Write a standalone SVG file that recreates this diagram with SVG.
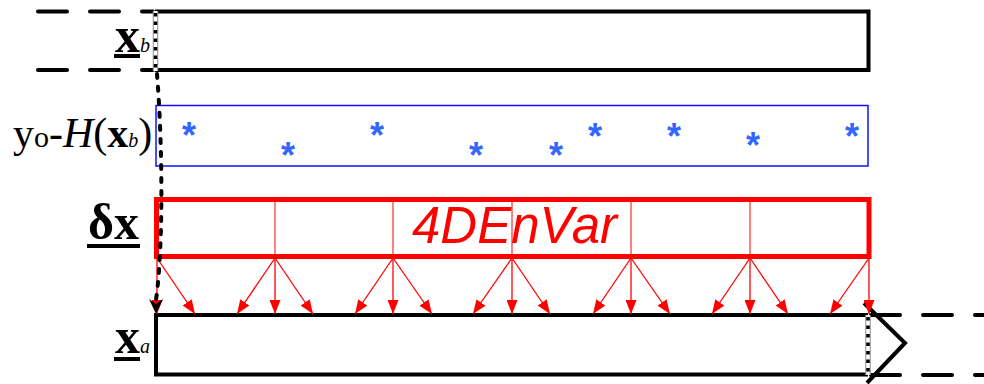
<svg xmlns="http://www.w3.org/2000/svg" width="984" height="384" viewBox="0 0 984 384">
  <style>
    .frame { fill: none; stroke: #000; stroke-width: 4; }
    .ext { fill: none; stroke: #000; stroke-width: 4; stroke-dasharray: 29 23; stroke-linecap: round; }
    .edge-out { stroke: #8a8a8a; stroke-width: 5.5; }
    .edge-in { stroke: #fff; stroke-width: 3.5; }
    .edge-dot { stroke: #000; stroke-width: 3.5; stroke-dasharray: 3.5 5; }
    .serif { font-family: "Liberation Serif", "Times New Roman", serif; fill: #000; }
    .star { font-family: "Liberation Sans", Arial, sans-serif; font-weight: bold; font-size: 36px; fill: #3366ff; text-anchor: middle; }
    .inc { stroke: #ff0000; stroke-width: 1.3; fill: none; marker-end: url(#redHead); }
    .tick { stroke: #ff0000; stroke-width: 1; }
  </style>
  <defs>
    <marker id="redHead" markerUnits="userSpaceOnUse" markerWidth="15" markerHeight="11" refX="14" refY="5.5" orient="auto">
      <path d="M0,0 L14,5.5 L0,11 Z" fill="#ff0000"/>
    </marker>
  </defs>

  <!-- background state window -->
  <g id="node-xb">
    <line class="ext" x1="38" y1="11.5" x2="153" y2="11.5"/>
    <line class="ext" x1="38" y1="70" x2="153" y2="70"/>
    <path class="frame" d="M155,11.5 H868.5 V70 H155"/>
    <line class="edge-out" x1="155.5" y1="11" x2="155.5" y2="71"/>
    <line class="edge-in" x1="155.5" y1="11" x2="155.5" y2="71"/>
    <line class="edge-dot" x1="155.5" y1="13" x2="155.5" y2="71"/>
    <text class="serif" x="115" y="52" font-size="50" font-weight="bold">x</text>
    <text class="serif" x="140" y="52" font-size="20" font-style="italic">b</text>
    <rect x="114" y="54" width="26" height="4" fill="#000"/>
  </g>

  <!-- innovation window with observations -->
  <g id="node-innov">
    <rect x="156" y="105.5" width="712" height="60.5" fill="none" stroke="#1010ff" stroke-width="1.5"/>
    <text class="serif" x="13" y="147" font-size="42"><tspan>y</tspan><tspan font-size="30">o</tspan><tspan>-</tspan><tspan font-style="italic">H</tspan><tspan>(</tspan><tspan font-weight="bold">x</tspan><tspan font-size="20" font-style="italic">b</tspan><tspan>)</tspan></text>
    <text class="star" x="189" y="148">*</text>
    <text class="star" x="288" y="168">*</text>
    <text class="star" x="377" y="148">*</text>
    <text class="star" x="476" y="168">*</text>
    <text class="star" x="556" y="168">*</text>
    <text class="star" x="595" y="149">*</text>
    <text class="star" x="674" y="149">*</text>
    <text class="star" x="753" y="158">*</text>
    <text class="star" x="852" y="149">*</text>
  </g>

  <!-- increment window -->
  <g id="node-dx">
    <line class="tick" x1="275" y1="200" x2="275" y2="258"/>
    <line class="tick" x1="393" y1="200" x2="393" y2="258"/>
    <line class="tick" x1="512" y1="200" x2="512" y2="258"/>
    <line class="tick" x1="631" y1="200" x2="631" y2="258"/>
    <line class="tick" x1="750" y1="200" x2="750" y2="258"/>
    <rect x="156.5" y="199.5" width="712.5" height="57" fill="none" stroke="#ff0000" stroke-width="5"/>
    <text x="412" y="243" font-family="Liberation Sans, Arial, sans-serif" font-style="italic" font-size="51" fill="#ff0000">4DEnVar</text>
    <text class="serif" x="88" y="239" font-size="50" font-weight="bold">δx</text>
    <rect x="87" y="244" width="53" height="4" fill="#000"/>
  </g>

  <!-- analysis window -->
  <g id="node-xa">
    <line class="ext" x1="871" y1="315" x2="984" y2="315"/>
    <line class="ext" x1="871" y1="375" x2="984" y2="375"/>
    <path class="frame" d="M868,315 H156 V374.5 H868"/>
    <line class="edge-out" x1="868" y1="315" x2="868" y2="375"/>
    <line class="edge-in" x1="868" y1="315" x2="868" y2="375"/>
    <line class="edge-dot" x1="868" y1="317" x2="868" y2="375"/>
    <polyline class="frame" points="864,303 905,343 867,383"/>
    <text class="serif" x="115" y="353" font-size="50" font-weight="bold">x</text>
    <text class="serif" x="140" y="353" font-size="20" font-style="italic">a</text>
    <rect x="114" y="357" width="26" height="4" fill="#000"/>
  </g>

  <g id="connectors">
    <!-- increment spread onto the analysis window -->
    <line class="inc" x1="157" y1="258" x2="157" y2="314"/>
    <line class="inc" x1="157" y1="258" x2="195" y2="314"/>
    <line class="inc" x1="275" y1="258" x2="237" y2="314"/>
    <line class="inc" x1="275" y1="258" x2="275" y2="314"/>
    <line class="inc" x1="275" y1="258" x2="313" y2="314"/>
    <line class="inc" x1="393" y1="258" x2="355" y2="314"/>
    <line class="inc" x1="393" y1="258" x2="393" y2="314"/>
    <line class="inc" x1="393" y1="258" x2="432" y2="314"/>
    <line class="inc" x1="512" y1="258" x2="473" y2="314"/>
    <line class="inc" x1="512" y1="258" x2="512" y2="314"/>
    <line class="inc" x1="512" y1="258" x2="550" y2="314"/>
    <line class="inc" x1="631" y1="258" x2="593" y2="314"/>
    <line class="inc" x1="631" y1="258" x2="631" y2="314"/>
    <line class="inc" x1="631" y1="258" x2="670" y2="314"/>
    <line class="inc" x1="750" y1="258" x2="712" y2="314"/>
    <line class="inc" x1="750" y1="258" x2="750" y2="314"/>
    <line class="inc" x1="750" y1="258" x2="788" y2="314"/>
    <line class="inc" x1="869" y1="258" x2="830" y2="314"/>
    <line class="inc" x1="869" y1="258" x2="869" y2="314"/>
    <!-- background carried to the analysis -->
    <path d="M157,74 C163,150 163,250 156,300" fill="none" stroke="#000" stroke-width="4" stroke-linecap="round" stroke-dasharray="4 9"/>
    <path d="M149,299 L156,304 L163,299 L156,314 Z" fill="#000"/>
  </g>
</svg>
